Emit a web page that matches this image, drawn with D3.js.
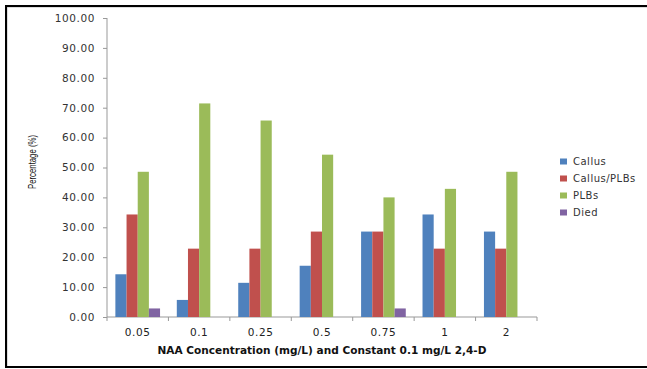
<!DOCTYPE html>
<html><head><meta charset="utf-8">
<script src="https://cdn.jsdelivr.net/npm/d3@7"></script>
<style>body{margin:0;background:#fff}svg{display:block}</style>
</head><body>
<svg id="c" width="647" height="369"></svg>
<script>
const categories = ["0.05","0.1","0.25","0.5","0.75","1","2"];
const seriesNames = ["Callus","Callus/PLBs","PLBs","Died"];
const callus = [14.29,5.71,11.43,17.14,28.57,34.29,28.57];
const callusPLBs = [34.29,22.86,22.86,28.57,28.57,22.86,22.86];
const plbs = [48.57,71.43,65.71,54.29,40.00,42.86,48.57];
const died = [2.86,0,0,0,2.86,0,0];
const yTicks = [0,10,20,30,40,50,60,70,80,90,100];
const colors = ["#4F81BD","#C0504D","#9BBB59","#8064A2"];
const seriesValues = [callus,callusPLBs,plbs,died];

const svg = d3.select("#c");
// outer frame
svg.append("rect").attr("x",7).attr("y",7).attr("width",660).attr("height",360)
  .attr("fill","none").attr("stroke","#bbb").attr("stroke-width",1);
svg.append("rect").attr("x",6).attr("y",6).attr("width",660).attr("height",361)
  .attr("fill","none").attr("stroke","#000").attr("stroke-width",2);

const L=107, R=537, T=18, B=317;
const x0 = d3.scaleBand().domain(categories).range([L,R]).paddingInner(0).paddingOuter(0);
const bw = x0.bandwidth();
const gap = bw*1.5/5.5;
const x1 = d3.scaleBand().domain(seriesNames).range([gap/2, bw-gap/2]).padding(0);
const y = d3.scaleLinear().domain([0,100]).range([B,T]);

const font = "DejaVu Sans, Verdana, sans-serif";
// y axis
const ya = svg.append("g").attr("transform",`translate(${L},0)`)
  .call(d3.axisLeft(y).tickValues(yTicks).tickSize(4).tickPadding(8).tickFormat(d3.format(".2f")));
ya.select(".domain").attr("stroke","#999").attr("d",`M0,${T}V${B}`);
ya.selectAll(".tick line").attr("stroke","#999");
ya.selectAll("text").attr("font-family",font).attr("font-size",10.5).attr("fill","#333").attr("letter-spacing",0.6);

// x axis
const xa = svg.append("g").attr("transform",`translate(0,${B})`)
  .call(d3.axisBottom(x0).tickSize(0).tickPadding(12));
xa.select(".domain").attr("stroke","#999").attr("d",`M${L},0H${R}`);
xa.selectAll("text").attr("font-family",font).attr("font-size",10.5).attr("fill","#222").attr("letter-spacing",0.6);
svg.append("g").selectAll("line").data(d3.range(categories.length+1)).join("line")
  .attr("x1",i=>L+i*bw).attr("x2",i=>L+i*bw).attr("y1",B).attr("y2",B+4).attr("stroke","#999");

// bars
const g = svg.append("g");
categories.forEach((c,ci)=>{
  seriesNames.forEach((s,si)=>{
    const v = seriesValues[si][ci];
    if(v<=0) return;
    g.append("rect").attr("x",x0(c)+x1(s)).attr("width",x1.bandwidth())
      .attr("y",y(v)).attr("height",y(0)-y(v)).attr("fill",colors[si]);
  });
});

// titles
svg.append("text").attr("transform","translate(36,162) rotate(-90)").attr("text-anchor","middle")
  .attr("font-family","Liberation Sans Narrow, Arial Narrow, sans-serif").attr("font-size",10.5).attr("fill","#111")
  .attr("textLength",54).attr("lengthAdjust","spacingAndGlyphs")
  .text("Percentage (%)");
svg.append("text").attr("x",322).attr("y",354).attr("text-anchor","middle")
  .attr("font-family",font).attr("font-weight","bold").attr("font-size",10.5).attr("fill","#111")
  .attr("textLength",329).attr("lengthAdjust","spacingAndGlyphs")
  .text("NAA Concentration (mg/L) and Constant 0.1 mg/L 2,4-D");

// legend
const lg = svg.append("g");
seriesNames.forEach((s,i)=>{
  const yy = 161.5 + i*17;
  lg.append("rect").attr("x",560).attr("y",yy-3).attr("width",7).attr("height",6).attr("fill",colors[i]);
  lg.append("text").attr("x",573).attr("y",yy+3.5).attr("font-family",font).attr("font-size",10)
    .attr("fill","#333").attr("letter-spacing",0.5).text(s);
});
</script>
</body></html>
